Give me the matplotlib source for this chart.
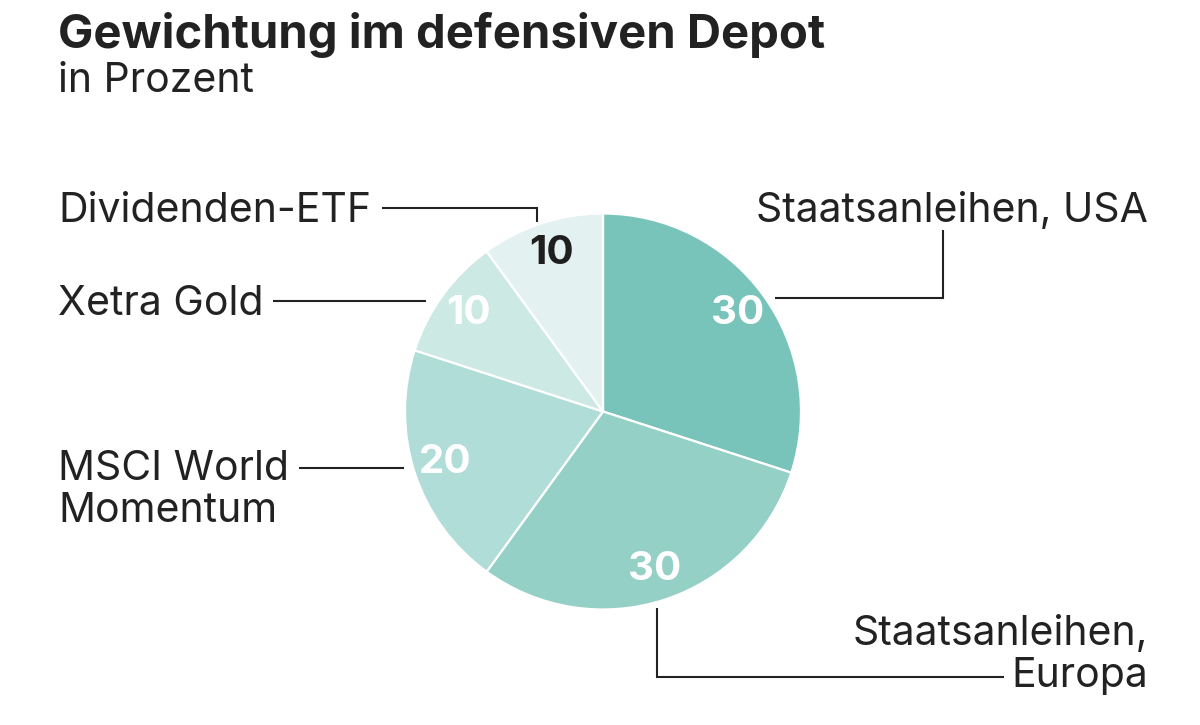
import numpy as np
import matplotlib
matplotlib.use("Agg")
import matplotlib.pyplot as plt

# Data
labels = ["Staatsanleihen, USA", "Staatsanleihen,\nEuropa", "MSCI World\nMomentum",
          "Xetra Gold", "Dividenden-ETF"]
values = [30, 30, 20, 10, 10]
colors = ["#79c4ba", "#95d0c7", "#b0ddd7", "#cce9e4", "#e3f2f0"]
value_colors = ["white", "white", "white", "white", "#1f1f1f"]

TITLE = "Gewichtung im defensiven Depot"
SUBTITLE = "in Prozent"

W, H = 1200, 725
TEXT = "#222222"
FONT = ["Inter", "DejaVu Sans"]

plt.rcParams["font.family"] = FONT


def Y(y):
    # pixel row (from top) -> axes data y
    return H - y


fig = plt.figure(figsize=(12, 7.25), dpi=100)
fig.patch.set_facecolor("white")
ax = fig.add_axes([0, 0, 1, 1])
ax.set_xlim(0, W)
ax.set_ylim(0, H)
ax.axis("off")

cx, cy, R = 603, 411.5, 198
wedges, _ = ax.pie(values, colors=colors, startangle=90, counterclock=False,
                   center=(cx, Y(cy)), radius=R,
                   wedgeprops=dict(edgecolor="white", linewidth=1.6))
ax.set_xlim(0, W)
ax.set_ylim(0, H)
ax.set_aspect("equal")

# value labels inside wedges
for w, v, vc in zip(wedges, values, value_colors):
    mid = np.deg2rad((w.theta1 + w.theta2) / 2)
    r = 166
    ax.text(cx + r * np.cos(mid), Y(cy) + r * np.sin(mid), f"{v}",
            ha="center", va="center", fontsize=29, fontweight="bold", color=vc)

# title + subtitle
ax.text(58, Y(48), TITLE, fontsize=34, fontweight="bold", color=TEXT,
        ha="left", va="baseline")
ax.text(58, Y(92), SUBTITLE, fontsize=29.5, color=TEXT, ha="left", va="baseline")

lkw = dict(color=TEXT, linewidth=1.5, solid_capstyle="butt", solid_joinstyle="miter")
tkw = dict(fontsize=29.5, color=TEXT, va="baseline")

# Staatsanleihen, USA
ax.text(1148, Y(222), labels[0], ha="right", **tkw)
ax.plot([775, 943, 943], [Y(298), Y(298), Y(230)], **lkw)

# Staatsanleihen, Europa
ax.text(1148, Y(645), "Staatsanleihen,", ha="right", **tkw)
ax.text(1148, Y(687), "Europa", ha="right", **tkw)
ax.plot([657, 657, 1004], [Y(608), Y(677), Y(677)], **lkw)

# MSCI World Momentum
ax.text(58, Y(480), "MSCI World", ha="left", **tkw)
ax.text(58, Y(522), "Momentum", ha="left", **tkw)
ax.plot([299, 404], [Y(468), Y(468)], **lkw)

# Xetra Gold
ax.text(58, Y(315), labels[3], ha="left", **tkw)
ax.plot([273, 426], [Y(301), Y(301)], **lkw)

# Dividenden-ETF
ax.text(58, Y(222), labels[4], ha="left", **tkw)
ax.plot([382, 537, 537], [Y(208), Y(208), Y(222)], **lkw)

fig.savefig("out.png", dpi=100, facecolor="white")
